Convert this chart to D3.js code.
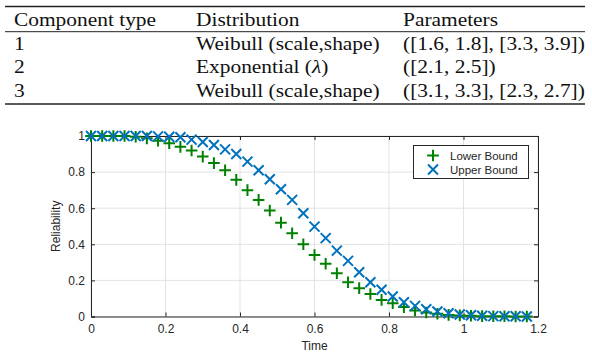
<!DOCTYPE html>
<html><head><meta charset="utf-8">
<script src="https://cdn.jsdelivr.net/npm/d3@7"></script>
<style>body{margin:0;background:#fff}</style>
</head><body>
<svg id="c" width="592" height="356"></svg>
<script>
const tableHeader = ["Component type", "Distribution", "Parameters"];
const tableRows = [
  ["1", "Weibull (scale,shape)", "([1.6, 1.8], [3.3, 3.9])"],
  ["2", "Exponential (|\u03bb|)", "([2.1, 2.5])"],
  ["3", "Weibull (scale,shape)", "([3.1, 3.3], [2.3, 2.7])"]
];
const times = d3.range(40).map(i => +(i * 0.03).toFixed(2));
const lowerBound = [1,1,1,1,0.996,0.987,0.974,0.96,0.94,0.92,0.886,0.85,0.81,0.757,0.70,0.646,0.587,0.52,0.461,0.40,0.341,0.292,0.24,0.19,0.157,0.125,0.092,0.074,0.052,0.033,0.022,0.015,0.009,0.006,0.004,0.002,0.001,0.001,0,0];
const upperBound = [1,1,1,1,1,1,0.998,0.996,0.993,0.98,0.967,0.95,0.926,0.90,0.858,0.81,0.76,0.705,0.646,0.572,0.498,0.434,0.365,0.308,0.245,0.19,0.148,0.111,0.079,0.059,0.04,0.028,0.018,0.011,0.007,0.004,0.002,0.001,0.001,0];
const xTicks = [0,0.2,0.4,0.6,0.8,1,1.2];
const yTicks = [0,0.2,0.4,0.6,0.8,1];
const seriesNames = ["Lower Bound", "Upper Bound"];

const svg = d3.select("#c");

// table
const tbl = svg.append("g").attr("font-family", "Liberation Serif, serif").attr("font-size", 18).attr("fill", "#111");
const colX = [14, 196, 403];
const rowY = [26, 49.5, 73, 96.5];
const tL = 5, tR = 585;
tbl.append("line").attr("x1", tL).attr("x2", tR).attr("y1", 6.5).attr("y2", 6.5).attr("stroke", "#222").attr("stroke-width", 1.4);
tbl.append("line").attr("x1", tL).attr("x2", tR).attr("y1", 31.7).attr("y2", 31.7).attr("stroke", "#222").attr("stroke-width", 1);
tbl.append("line").attr("x1", tL).attr("x2", tR).attr("y1", 104).attr("y2", 104).attr("stroke", "#222").attr("stroke-width", 1.4);
function cell(txt, cx, cy) {
  const t = tbl.append("text").attr("transform", `translate(${cx},${cy}) scale(1.19,1)`);
  txt.split("|").forEach((part, k) => {
    const sp = t.append("tspan").text(part);
    if (k % 2 === 1) sp.attr("font-style", "italic");
  });
}
tableHeader.forEach((h, i) => cell(h, colX[i], rowY[0]));
tableRows.forEach((r, j) => r.forEach((c, i) => cell(c, colX[i], rowY[j + 1])));

// chart
const x = d3.scaleLinear().domain([0, 1.2]).range([91, 538]);
const y = d3.scaleLinear().domain([0, 1]).range([316.5, 136]);
const g = svg.append("g").attr("font-family", "Liberation Sans, Arial, sans-serif");

g.append("g").selectAll("line").data(xTicks).join("line")
  .attr("x1", d => x(d)).attr("x2", d => x(d)).attr("y1", y(0)).attr("y2", y(1))
  .attr("stroke", "#e3e3e3").attr("stroke-width", 1);
g.append("g").selectAll("line").data(yTicks).join("line")
  .attr("x1", x(0)).attr("x2", x(1.2)).attr("y1", d => y(d)).attr("y2", d => y(d))
  .attr("stroke", "#e3e3e3").attr("stroke-width", 1);

const xAxis = d3.axisBottom(x).tickValues(xTicks).tickSize(-4).tickPadding(8).tickFormat(d => d3.format("~g")(d));
const yAxis = d3.axisLeft(y).tickValues(yTicks).tickSize(-4).tickPadding(6).tickFormat(d => d3.format("~g")(d));
const xa = g.append("g").attr("transform", `translate(0,${y(0)})`).call(xAxis);
const ya = g.append("g").attr("transform", `translate(${x(0)},0)`).call(yAxis);
const xt = g.append("g").attr("transform", `translate(0,${y(1)})`).call(d3.axisTop(x).tickValues(xTicks).tickSize(-4).tickFormat(""));
const yr = g.append("g").attr("transform", `translate(${x(1.2)},0)`).call(d3.axisRight(y).tickValues(yTicks).tickSize(-4).tickFormat(""));
[xa, ya, xt, yr].forEach(a => {
  a.select(".domain").attr("stroke", "#262626").attr("stroke-width", 1);
  a.selectAll(".tick line").attr("stroke", "#262626");
  a.selectAll("text").attr("font-size", 12).attr("fill", "#262626").attr("font-family", "Liberation Sans, Arial, sans-serif");
});

g.append("text").attr("x", x(0.6)).attr("y", 350).attr("text-anchor", "middle").attr("font-size", 12).attr("fill", "#262626").text("Time");
g.append("text").attr("transform", `translate(60,${y(0.5)}) rotate(-90)`).attr("text-anchor", "middle").attr("font-size", 12).attr("fill", "#262626").text("Reliability");

const green = "#008000", blue = "#0072BD";
function plus(sel, cx, cy, col) {
  const s = 5.8;
  sel.append("path").attr("d", `M${cx - s},${cy}H${cx + s}M${cx},${cy - s}V${cy + s}`).attr("stroke", col).attr("stroke-width", 2).attr("fill", "none");
}
function cross(sel, cx, cy, col) {
  const k = 5;
  sel.append("path").attr("d", `M${cx - k},${cy - k}L${cx + k},${cy + k}M${cx - k},${cy + k}L${cx + k},${cy - k}`).attr("stroke", col).attr("stroke-width", 2).attr("fill", "none");
}
const marks = g.append("g");
times.forEach((t, i) => plus(marks, x(t), y(lowerBound[i]), green));
times.forEach((t, i) => cross(marks, x(t), y(upperBound[i]), blue));

// legend
const lg = g.append("g");
lg.append("rect").attr("x", 413.5).attr("y", 145.5).attr("width", 115).attr("height", 33).attr("fill", "#fff").attr("stroke", "#262626").attr("stroke-width", 1);
plus(lg, 433, 155.5, green);
cross(lg, 433, 169.5, blue);
seriesNames.forEach((n, i) => lg.append("text").attr("x", 450).attr("y", 159.5 + i * 14).attr("font-size", 11.5).attr("fill", "#262626").text(n));
</script>
</body></html>
